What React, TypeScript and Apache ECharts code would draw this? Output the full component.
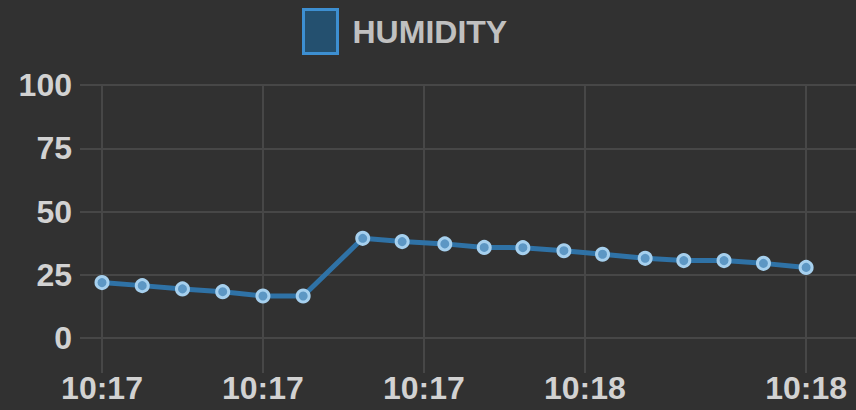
import React, { useEffect, useRef } from "react";
import * as echarts from "echarts";

// Seconds after 10:17:00 for each reading
const baseTime = "10:17:00";
const times = [0, 5, 10, 15, 20, 25, 32.4, 37.3, 42.6, 47.5, 52.3, 57.4, 62.2, 67.5, 72.3, 77.3, 82.2, 87.5];
const humidity = [21.9, 20.7, 19.4, 18.3, 16.6, 16.6, 39.4, 38.1, 37.2, 35.8, 35.7, 34.5, 33.1, 31.5, 30.6, 30.6, 29.5, 27.9];
const xTicks = [0, 20, 40, 60, 87.5];
const yTicks = [0, 25, 50, 75, 100];
const seriesName = "HUMIDITY";

function fmt(sec: number): string {
  const [h, m, s] = baseTime.split(":").map(Number);
  const total = h * 3600 + m * 60 + s + Math.floor(sec);
  const hh = Math.floor(total / 3600) % 24;
  const mm = Math.floor((total % 3600) / 60);
  return `${hh}:${String(mm).padStart(2, "0")}`;
}

const gridColor = "#474747";
const labelColor = "#d2d2d2";
const font = "'Liberation Sans', Arial, sans-serif";

export default function App() {
  const ref = useRef<HTMLDivElement>(null);
  useEffect(() => {
    if (!ref.current) return;
    const chart = echarts.init(ref.current, null, { renderer: "svg" });
    chart.setOption({
      animation: false,
      backgroundColor: "#313131",
      legend: {
        left: 297,
        top: 3,
        itemWidth: 34,
        itemHeight: 44,
        data: [
          {
            name: seriesName,
            icon: "rect",
            itemStyle: { color: "#24506f", borderColor: "#3d8fd1", borderWidth: 3 },
          },
        ],
        textStyle: {
          color: "#c0c0c0",
          fontSize: 32,
          fontWeight: "bold",
          fontFamily: font,
          padding: [0, 0, 0, 10],
        },
      },
      grid: { left: 102, right: 0, top: 85, bottom: 72 },
      xAxis: {
        type: "value",
        min: 0,
        max: 93.7,
        axisLine: { show: false },
        splitLine: { show: false },
        axisTick: {
          show: true,
          customValues: xTicks,
          length: 35,
          lineStyle: { color: gridColor, width: 2 },
        },
        axisLabel: {
          customValues: xTicks,
          formatter: (v: number) => fmt(v),
          color: labelColor,
          fontSize: 32,
          fontWeight: "bold",
          fontFamily: font,
          margin: 34,
        },
      },
      yAxis: {
        type: "value",
        min: 0,
        max: 100,
        interval: 25,
        axisLine: { show: false },
        axisTick: { show: true, length: 22, lineStyle: { color: gridColor, width: 2 } },
        splitLine: { show: true, lineStyle: { color: gridColor, width: 2 } },
        axisLabel: {
          color: labelColor,
          fontSize: 32,
          fontWeight: "bold",
          fontFamily: font,
          margin: 30,
          customValues: yTicks,
        },
      },
      series: [
        {
          name: seriesName,
          type: "line",
          data: times.map((t, i) => [t, humidity[i]]),
          symbol: "circle",
          symbolSize: 12,
          lineStyle: { color: "#2f72a6", width: 5 },
          itemStyle: { color: "#5d97c4", borderColor: "#a6d0ee", borderWidth: 3 },
          markLine: {
            silent: true,
            symbol: "none",
            label: { show: false },
            lineStyle: { color: gridColor, width: 2, type: "solid" },
            data: xTicks.map((v) => ({ xAxis: v })),
            z: 0,
          },
          z: 3,
        },
      ],
    });
    return () => chart.dispose();
  }, []);
  return (
    <div
      ref={ref}
      style={{ position: "fixed", left: 0, top: 0, width: 856, height: 410 }}
    />
  );
}
